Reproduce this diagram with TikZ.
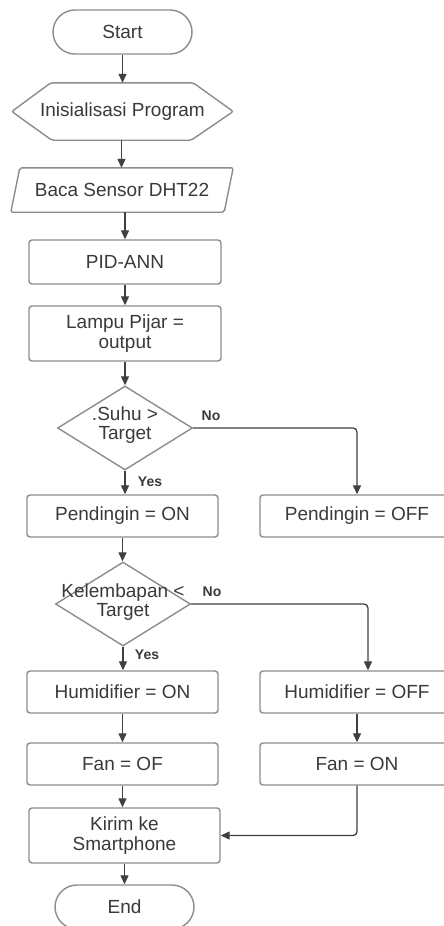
\documentclass[tikz,border=0pt]{standalone}
\usepackage{fontspec}
\setmainfont{Liberation Sans}
\usetikzlibrary{shapes.misc,shapes.geometric,arrows.meta,calc}
\definecolor{txt}{HTML}{3A3A3A}
\definecolor{bord}{HTML}{8C8C8C}
\definecolor{conncol}{HTML}{404040}
\begin{document}
\begin{tikzpicture}[x=1pt,y=-1pt,
  every node/.style={text=txt,font=\fontsize{19}{19.5}\selectfont,align=center,inner sep=0pt},
  procbox/.style={draw=bord,line width=1.4pt,rounded corners=3pt,minimum width=191pt,minimum height=42pt},
  termbox/.style={draw=bord,line width=1.4pt,rounded rectangle,minimum width=139pt,minimum height=44pt},
  shapeline/.style={draw=bord,line width=1.4pt,rounded corners=2pt},
  decbox/.style={diamond,draw=bord,line width=1.4pt,minimum width=135pt,minimum height=84pt},
  conn/.style={draw=conncol,line width=1.3pt,rounded corners=4pt,-{Triangle[length=9pt,width=8pt]}},
  lbl/.style={font=\bfseries\fontsize{14}{14}\selectfont,text=txt}]
\useasboundingbox[fill=white] (0,0) rectangle (444,926);

% nodes
\node[termbox] (start) at (122.5,32) {Start};
\node[minimum width=221pt,minimum height=57pt] (init) at (122.5,111.5) {Inisialisasi Program};
\draw[shapeline] ($(init.west)$) -- ($(init.north west)+(39,0)$) -- ($(init.north east)+(-40,0)$) -- (init.east) -- ($(init.south east)+(-42,0)$) -- ($(init.south west)+(40,0)$) -- cycle;
\node[minimum width=213pt,minimum height=44pt] (baca) at (122,190) {Baca Sensor DHT22};
\draw[shapeline] ($(baca.north west)+(4.5,0)$) -- ($(baca.north east)+(4.5,0)$) -- ($(baca.south east)+(-4.5,0)$) -- ($(baca.south west)+(-4.5,0)$) -- cycle;
\node[procbox,minimum width=192pt,minimum height=44pt] (pid) at (125,262) {PID-ANN};
\node[procbox,minimum width=192pt,minimum height=55pt] (lampu) at (125,333.5) {Lampu Pijar =\\output};
\node[decbox] (d1) at (125,428) {};
\node at (125,425) {.Suhu >\\Target};
\node[procbox] (pon) at (122.5,516) {Pendingin = ON};
\node[procbox,minimum width=194pt] (poff) at (357,516) {Pendingin = OFF};
\node[decbox] (d2) at (123,604) {};
\node at (123,602) {Kelembapan <\\Target};
\node[procbox] (hon) at (122.5,692) {Humidifier = ON};
\node[procbox,minimum width=194pt] (hoff) at (357,692) {Humidifier = OFF};
\node[procbox] (fof) at (122.5,764) {Fan = OF};
\node[procbox,minimum width=194pt] (fon) at (357,764) {Fan = ON};
\node[procbox,minimum width=191pt,minimum height=55pt] (kirim) at (124.5,835.5) {Kirim ke\\Smartphone};
\node[termbox] (end) at (124.5,907) {End};

% labels
\node[lbl] (no1) at (211,416) {No};
\node[lbl] (yes1) at (150,482) {Yes};
\node[lbl] (no2) at (212,592) {No};
\node[lbl] (yes2) at (147,655) {Yes};

% connectors
\draw[conn] (start.south) -- (start.south |- init.north);
\draw[conn] ([xshift=-1pt]init.south) -- ([xshift=-1pt]init.south |- baca.north);
\draw[conn] ([xshift=3pt]baca.south) -- ([xshift=3pt]baca.south |- pid.north);
\draw[conn] (pid.south) -- (pid.south |- lampu.north);
\draw[conn] (lampu.south) -- (lampu.south |- d1.north);
\draw[conn] (d1.south) -- (d1.south |- pon.north);
\draw[conn] (d1.east) -| (poff.north);
\draw[conn] (pon.south) -- (pon.south |- d2.north);
\draw[conn] (d2.south) -- (d2.south |- hon.north);
\draw[conn] (d2.east) -| ([xshift=11pt]hoff.north);
\draw[conn] (hon.south) -- (hon.south |- fof.north);
\draw[conn] (hoff.south) -- (hoff.south |- fon.north);
\draw[conn] (fof.south) -- (fof.south |- kirim.north);
\draw[conn] (fon.south) |- (kirim.east);
\draw[conn] (kirim.south) -- (kirim.south |- end.north);
\end{tikzpicture}
\end{document}
